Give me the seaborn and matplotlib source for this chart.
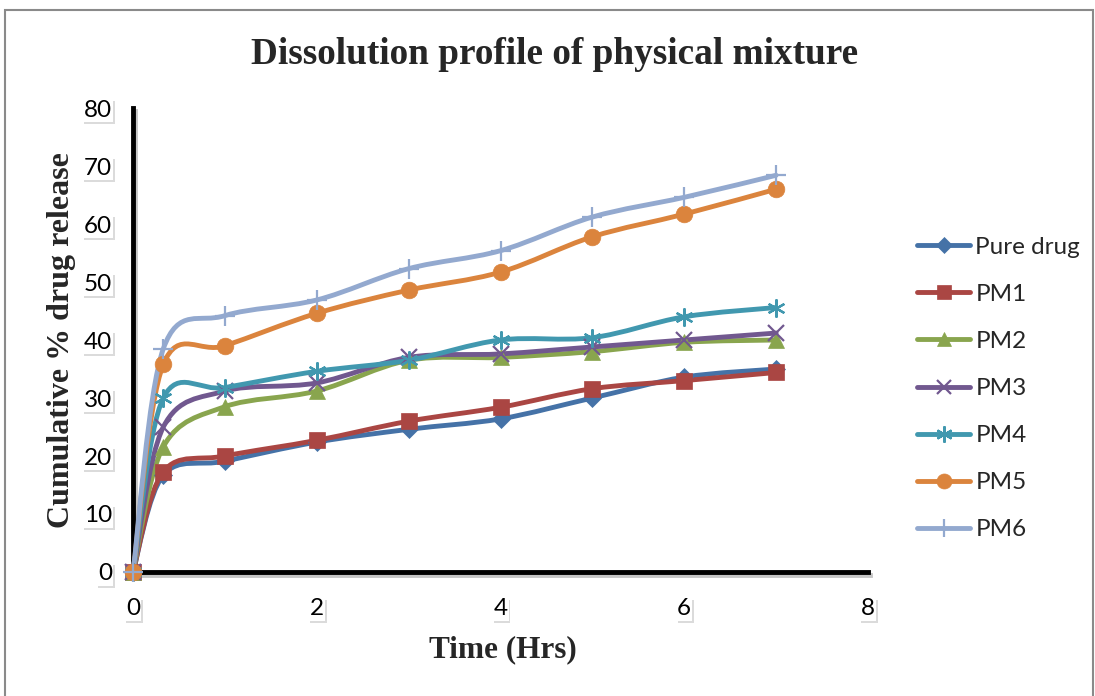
import numpy as np
import pandas as pd
import matplotlib
matplotlib.use("Agg")
import matplotlib.pyplot as plt
import seaborn as sns
from matplotlib.path import Path
from matplotlib.patches import PathPatch, Rectangle
from matplotlib.lines import Line2D
import matplotlib.patheffects as pe

# ---- data ----
time_hrs = [0, 0.33, 1, 2, 3, 4, 5, 6, 7]
pure_drug = [0, 16.7, 19.1, 22.4, 24.6, 26.4, 30.0, 33.6, 35.0]
pm1 = [0, 17.3, 20.0, 22.7, 26.0, 28.4, 31.6, 33.0, 34.4]
pm2 = [0, 21.6, 28.5, 31.2, 36.5, 37.0, 38.0, 39.6, 40.0]
pm3 = [0, 25.0, 31.2, 32.6, 37.0, 37.6, 38.8, 40.0, 41.2]
pm4 = [0, 30.0, 31.8, 34.6, 36.5, 40.0, 40.4, 44.0, 45.6]
pm5 = [0, 35.8, 39.0, 44.6, 48.6, 51.7, 57.8, 61.7, 66.0]
pm6 = [0, 38.5, 44.2, 46.9, 52.3, 55.4, 61.2, 64.6, 68.4]

series_names = ["Pure drug", "PM1", "PM2", "PM3", "PM4", "PM5", "PM6"]
series_values = [pure_drug, pm1, pm2, pm3, pm4, pm5, pm6]
colors = ["#4572A7", "#AA4643", "#89A54E", "#71588F", "#4198AF", "#DB843D", "#93A9CF"]
markers = ["D", "s", "^", "x", (6, 2, 0), "o", "+"]
msizes = [9, 11, 11, 11, 13, 12, 14]

x_ticks = [0, 2, 4, 6, 8]
y_ticks = [0, 10, 20, 30, 40, 50, 60, 70, 80]

title = "Dissolution profile of physical mixture"
xlabel = "Time (Hrs)"
ylabel = "Cumulative % drug release"

# ---- figure ----
sns.set_theme(style="white")
plt.rcParams["font.family"] = ["Lato", "DejaVu Sans"]
fig = plt.figure(figsize=(10.95, 6.96), dpi=100)
ax = fig.add_axes([133 / 1095, 1 - 572 / 696, (868 - 133) / 1095, (572 - 108) / 696])

UNFILLED = ("x", "+", (6, 2, 0))


def smooth_path(xs, ys):
    pts = np.column_stack([xs, ys]).astype(float)
    n = len(pts)
    verts = [pts[0]]
    codes = [Path.MOVETO]
    for i in range(n - 1):
        p0 = pts[i - 1] if i > 0 else pts[i]
        p1 = pts[i]
        p2 = pts[i + 1]
        p3 = pts[i + 2] if i + 2 < n else pts[i + 1]
        c1 = p1 + (p2 - p0) / 6.0
        c2 = p2 - (p3 - p1) / 6.0
        verts += [c1, c2, p2]
        codes += [Path.CURVE4] * 3
    return Path(verts, codes)


for name, vals, col, mk, ms in zip(series_names, series_values, colors, markers, msizes):
    patch = PathPatch(smooth_path(time_hrs, vals), facecolor="none", edgecolor=col,
                      lw=3.5, capstyle="round", joinstyle="round", zorder=3, clip_on=False)
    ax.add_patch(patch)
    d = pd.DataFrame({"time": time_hrs, "val": vals})
    sns.lineplot(data=d, x="time", y="val", ax=ax, estimator=None, sort=False,
                 errorbar=None, linestyle="none", marker=mk, markersize=ms,
                 color=col, markerfacecolor=col, markeredgecolor=col,
                 markeredgewidth=(1.6 if mk in UNFILLED else 0.5), zorder=4, clip_on=False)

ax.set_xlim(0, 8)
ax.set_ylim(0, 80)
ax.set_xticks(x_ticks)
ax.set_yticks(y_ticks)
ax.set_xticklabels([str(t) for t in x_ticks])
ax.set_yticklabels([str(t) for t in y_ticks])
ax.tick_params(axis="both", length=0, labelsize=17.5, colors="black")
ax.tick_params(axis="y", pad=15)
ax.tick_params(axis="x", pad=19)
ax.grid(False)

for s in ["top", "right"]:
    ax.spines[s].set_visible(False)
shadow_line = [pe.SimpleLineShadow(offset=(1.5, -2), shadow_color="gray", alpha=0.45), pe.Normal()]
for s in ["left", "bottom"]:
    ax.spines[s].set_color("black")
    ax.spines[s].set_linewidth(3.5)
    ax.spines[s].set_path_effects(shadow_line)
    ax.spines[s].set_zorder(2)

for lab in ax.get_xticklabels() + ax.get_yticklabels():
    lab.set_fontfamily(["Lato", "DejaVu Sans"])
    lab.set_bbox(dict(facecolor="white", edgecolor="none", pad=0.8))
    lab.get_bbox_patch().set_path_effects(
        [pe.SimplePatchShadow(offset=(1.2, -2.0), shadow_rgbFace="#999999", alpha=0.35), pe.Normal()])

serif = ["Liberation Serif", "DejaVu Serif"]
ax.set_xlabel(xlabel, fontsize=22.5, fontweight="bold", family=serif)
ax.set_ylabel(ylabel, fontsize=23, fontweight="bold", family=serif)
ax.xaxis.set_label_coords((503 - 133) / 735, (572 - 650) / 464)
ax.yaxis.set_label_coords((62 - 133) / 735, 0.5)
ax.xaxis.label.set_va("center")
ax.yaxis.label.set_va("center")

fig.text(555 / 1095, 1 - 55 / 696, title, ha="center", va="center", fontsize=26.8,
         fontweight="bold", family=serif)

handles = [Line2D([0], [0], color=c, lw=3.5, marker=m, markersize=ms * 0.9,
                  markerfacecolor=c, markeredgecolor=c,
                  markeredgewidth=(1.6 if m in UNFILLED else 0.5),
                  solid_capstyle="round")
           for c, m, ms in zip(colors, markers, msizes)]
fig.legend(handles, series_names, loc="center left", bbox_to_anchor=(917 / 1095, 1 - 388.5 / 696),
           frameon=False, fontsize=17.5, handlelength=2.2, handletextpad=0.2,
           labelspacing=1.07, borderpad=0, borderaxespad=0)

fig.patches.append(Rectangle((5 / 1095, -0.02), 1088 / 1095, 1 - 10 / 696 + 0.02,
                             transform=fig.transFigure, fill=False, edgecolor="#8A8A8A",
                             lw=1.5, zorder=0))

fig.savefig("out.png", dpi=100)
